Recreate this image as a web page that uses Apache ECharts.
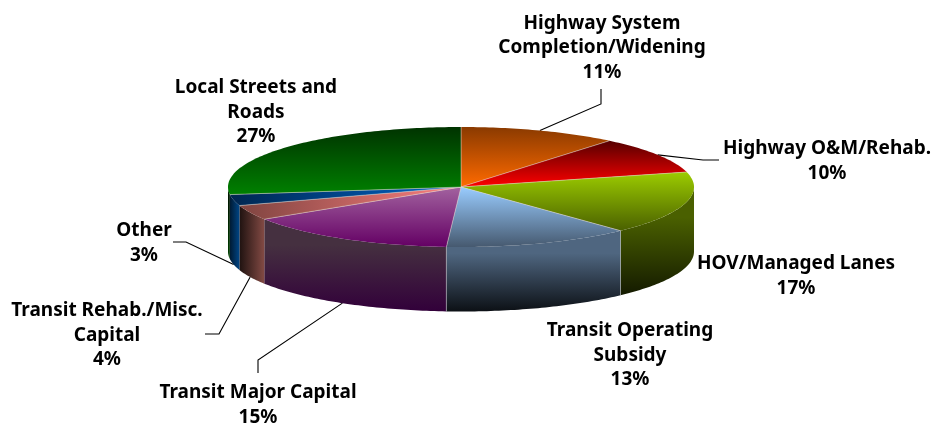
<!DOCTYPE html>
<html>
<head>
<meta charset="utf-8">
<style>html,body{margin:0;padding:0;background:#fff}#chart{width:932px;height:424px}</style>
<script src="https://cdn.jsdelivr.net/npm/echarts@6/dist/echarts.min.js"></script>
</head>
<body>
<div id="chart"></div>
<script>
// Shares of the plan, clockwise from twelve o'clock.
const categories = [
  'Highway System\nCompletion/Widening',
  'Highway O&M/Rehab.',
  'HOV/Managed Lanes',
  'Transit Operating\nSubsidy',
  'Transit Major Capital',
  'Transit Rehab./Misc.\nCapital',
  'Other',
  'Local Streets and\nRoads'
];
const shares = [11, 10, 17, 13, 15, 4, 3, 27];

// [start, end] colours of each slice's top face and outer wall.
const topColors = [
  ['#8a3a00', '#ff6a00'], ['#560000', '#ff0000'], ['#9ccc00', '#4a6000'], ['#99ccff', '#46596f'],
  ['#a2629f', '#640064'], ['#7f4440', '#ff8080'], ['#00264f', '#0066cc'], ['#003300', '#008000']
];
const wallColors = [
  ['#000', '#000'], ['#000', '#000'], ['#4a6000', '#141a00'], ['#4f6680', '#0c1015'],
  ['#453040', '#32003a'], ['#1f1210', '#834a44'], ['#001a33', '#004585'], ['#001a00', '#004000']
];
// Slices whose shading runs left to right instead of top to bottom.
const horizontalShade = [5, 6];
// Slices with a pale seam on the wall at their leading edge.
const seamedWalls = [3, 4];

// Label block centres and the elbow points of the leader lines.
const labelCentres = [[602, 48], [827, 161], [796, 276], [630, 355.5], [258, 405], [107, 335.5], [144, 243], [256, 112.5]];
const leaderElbows = [
  [[601, 104], [601, 89]], [[703, 160], [719, 160]], null, null,
  [[258, 360], [258, 373]], [[219, 334], [205, 334]], [[186, 242], [173, 242]], null
];

// Projection of the tilted disc.
const CX = 461, CY = 187, RX = 233, RY = 60, DEPTH = 64.5;
const total = shares.reduce((a, b) => a + b, 0);
const rad = d => d * Math.PI / 180;
const rim = (deg, drop) => [CX + RX * Math.sin(rad(deg)), CY - RY * Math.cos(rad(deg)) + (drop || 0)];
const startAngle = i => shares.slice(0, i).reduce((a, b) => a + b, 0) / total * 360;

function arc(a0, a1, drop) {
  const pts = [];
  const n = Math.max(2, Math.ceil(Math.abs(a1 - a0)));
  for (let k = 0; k <= n; k++) pts.push(rim(a0 + (a1 - a0) * k / n, drop));
  return pts;
}

function gradient(colors, horizontal, hold) {
  const stops = [{ offset: 0, color: colors[0] }];
  if (hold) stops.push({ offset: hold, color: colors[0] });
  stops.push({ offset: 1, color: colors[1] });
  return new echarts.graphic.LinearGradient(0, 0, horizontal ? 1 : 0, horizontal ? 0 : 1, stops);
}

function renderSlice(params) {
  const i = params.dataIndex;
  const a0 = startAngle(i), a1 = startAngle(i + 1);
  const horizontal = horizontalShade.includes(i);
  const children = [];

  // Outer wall: only the part of the rim that faces the viewer.
  const w0 = Math.max(a0, 90), w1 = Math.min(a1, 270);
  if (w1 > w0) {
    children.push({
      type: 'polygon',
      shape: { points: arc(w0, w1, 0).concat(arc(w1, w0, DEPTH)) },
      style: { fill: gradient(wallColors[i], horizontal, horizontal ? 0 : 0.28) }
    });
    if (seamedWalls.includes(i)) {
      children.push({
        type: 'line',
        shape: { x1: rim(a0)[0], y1: rim(a0)[1], x2: rim(a0)[0], y2: rim(a0)[1] + DEPTH },
        style: { stroke: 'rgba(190,195,200,0.55)', lineWidth: 1 }
      });
    }
  }

  // Top face.
  children.push({
    type: 'polygon',
    shape: { points: [[CX, CY]].concat(arc(a0, a1, 0)) },
    style: { fill: gradient(topColors[i], horizontal) }
  });
  children.push({
    type: 'polyline',
    shape: { points: [rim(a0), [CX, CY], rim(a1)] },
    style: { fill: null, stroke: 'rgba(225,215,205,0.5)', lineWidth: 0.8 }
  });

  // Leader line from the slice's middle angle out to its label.
  const elbow = leaderElbows[i];
  if (elbow) {
    const mid = (a0 + a1) / 2;
    const onWall = mid > 90 && mid < 270;
    children.push({
      type: 'polyline',
      shape: { points: [rim(mid, onWall ? DEPTH : 0)].concat(elbow) },
      style: { fill: null, stroke: '#000', lineWidth: 1.1 },
      z2: -1
    });
  }

  // Label.
  children.push({
    type: 'text',
    style: {
      text: categories[i] + '\n' + shares[i] + '%',
      x: labelCentres[i][0], y: labelCentres[i][1],
      align: 'center', verticalAlign: 'middle',
      font: 'bold 19px "Noto Sans"', lineHeight: 24.5, fill: '#000'
    }
  });
  return { type: 'group', children };
}

const chart = echarts.init(document.getElementById('chart'), null, { renderer: 'canvas' });
chart.setOption({
  animation: false,
  backgroundColor: '#fff',
  series: [{
    type: 'custom',
    coordinateSystem: 'none',
    silent: true,
    data: shares,
    renderItem: renderSlice
  }]
});
</script>
</body>
</html>
